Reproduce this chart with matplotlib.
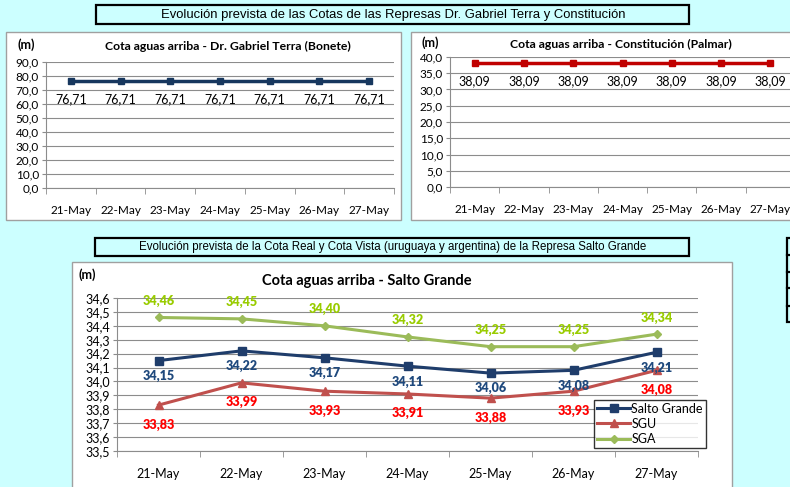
import matplotlib.pyplot as plt
from matplotlib.patches import Rectangle
from matplotlib.lines import Line2D
import numpy as np

# data
days = ["21-May", "22-May", "23-May", "24-May", "25-May", "26-May", "27-May"]
bonete = [76.71, 76.71, 76.71, 76.71, 76.71, 76.71, 76.71]
palmar = [38.09, 38.09, 38.09, 38.09, 38.09, 38.09, 38.09]
salto_grande = [34.15, 34.22, 34.17, 34.11, 34.06, 34.08, 34.21]
sgu = [33.83, 33.99, 33.93, 33.91, 33.88, 33.93, 34.08]
sga = [34.46, 34.45, 34.40, 34.32, 34.25, 34.25, 34.34]

W, H = 790, 487
BG = "#CCFFFF"
GRID = "#8C8C8C"
FONT = "Lato"

fig = plt.figure(figsize=(W / 100, H / 100), dpi=100, facecolor=BG)


def box(x0, y0, x1, y1, **kw):
    # rectangle in pixel coords (top-left origin), drawn under the axes
    r = Rectangle((x0 / W, 1 - y1 / H), (x1 - x0) / W, (y1 - y0) / H,
                  transform=fig.transFigure, zorder=-5, **kw)
    fig.patches.append(r)


def ftext(x, y, s, **kw):
    fig.text(x / W, 1 - y / H, s, **kw)


def make_axes(x0, y0, x1, y1):
    return fig.add_axes([x0 / W, 1 - y1 / H, (x1 - x0) / W, (y1 - y0) / H])


def style_axes(ax, ymin, ymax, step, fmt, fs=8.5):
    n = len(days)
    x = np.arange(n)
    ax.set_facecolor("white")
    ax.set_xlim(-0.5, n - 0.5)
    ax.set_ylim(ymin, ymax)
    yt = np.round(np.arange(ymin, ymax + step / 2, step), 3)
    ax.set_yticks(yt)
    ax.set_yticklabels([fmt.format(v).replace(".", ",") for v in yt],
                       fontsize=fs, family=FONT)
    ax.set_xticks(x)
    ax.set_xticklabels(days, fontsize=fs, family=FONT)
    ax.set_xticks(np.arange(-0.5, n), minor=True)
    ax.tick_params(axis="x", which="major", length=0, pad=12)
    ax.tick_params(axis="x", which="minor", length=4, color=GRID)
    ax.tick_params(axis="y", length=3, color=GRID, pad=2)
    ax.grid(axis="y", color=GRID, linewidth=0.8)
    ax.set_axisbelow(True)
    for s in ["top", "right"]:
        ax.spines[s].set_visible(False)
    for s in ["left", "bottom"]:
        ax.spines[s].set_color(GRID)
    return x


# top title box
box(96, 5, 689, 24, facecolor=BG, edgecolor="black", linewidth=1.6)
ftext(393, 15, "Evolución prevista de las Cotas de las Represas Dr. Gabriel Terra y Constitución",
      ha="center", va="center", fontsize=9.4, family="Liberation Sans")

# left panel - Bonete
box(6, 32, 401, 220, facecolor="white", edgecolor="#A0A0A0", linewidth=1)
ax1 = make_axes(46, 62, 394, 188)
x = style_axes(ax1, 0, 90, 10, "{:.1f}")
ax1.plot(x, bonete, color="#17375E", linewidth=2.5, marker="s", markersize=5)
for xi, v in zip(x, bonete):
    ax1.annotate(f"{v:.2f}".replace(".", ","), (xi, v), xytext=(0, -13),
                 textcoords="offset points", ha="center", va="center",
                 fontsize=9, family=FONT)
ftext(26, 45, "(m)", ha="center", va="center", fontsize=9, weight="bold", family=FONT)
ftext(228, 46, "Cota aguas arriba - Dr. Gabriel Terra (Bonete)", ha="center", va="center",
      fontsize=8.8, weight="bold", family=FONT)

# right panel - Palmar (cut off at figure edge)
box(411, 32, 815, 220, facecolor="white", edgecolor="#A0A0A0", linewidth=1)
ax2 = make_axes(450, 57, 795, 187)
x = style_axes(ax2, 0, 40, 5, "{:.1f}")
ax2.plot(x, palmar, color="#C00000", linewidth=2.5, marker="s", markersize=5)
for xi, v in zip(x, palmar):
    ax2.annotate(f"{v:.2f}".replace(".", ","), (xi, v), xytext=(0, -13),
                 textcoords="offset points", ha="center", va="center",
                 fontsize=9, family=FONT)
ftext(430, 43, "(m)", ha="center", va="center", fontsize=9, weight="bold", family=FONT)
ftext(621, 44, "Cota aguas arriba - Constitución (Palmar)", ha="center", va="center",
      fontsize=8.8, weight="bold", family=FONT)

# bottom title box
box(95, 238, 689, 256, facecolor=BG, edgecolor="black", linewidth=1.6)
ftext(393, 247, "Evolución prevista de la Cota Real y Cota Vista (uruguaya y argentina) de la Represa Salto Grande",
      ha="center", va="center", fontsize=8.3, family="Liberation Sans")

# right side table fragment
box(787, 238, 800, 322, facecolor=BG, edgecolor="black", linewidth=1.6)
for yl in [255, 272, 288, 306]:
    fig.lines.append(Line2D([787 / W, 1], [1 - yl / H, 1 - yl / H],
                            transform=fig.transFigure, color="black", linewidth=1.6))

# bottom panel - Salto Grande
box(72, 262, 732, 500, facecolor="white", edgecolor="#A0A0A0", linewidth=1)
ax3 = make_axes(117, 298, 698, 451)
x = style_axes(ax3, 33.5, 34.6, 0.1, "{:.1f}", fs=9)
series = [
    ("Salto Grande", salto_grande, "#1F3D6B", "#1F497D", "s", -11),
    ("SGU", sgu, "#C0504D", "#FF0000", "^", -14),
    ("SGA", sga, "#9BBB59", "#99CC00", "D", 12),
]
for name, vals, col, lcol, mk, dy in series:
    ax3.plot(x, vals, color=col, linewidth=2.2, marker=mk,
             markersize=5.5 if mk != "D" else 4.5, label=name)
    for xi, v in zip(x, vals):
        ax3.annotate(f"{v:.2f}".replace(".", ","), (xi, v), xytext=(0, dy),
                     textcoords="offset points", ha="center", va="center",
                     fontsize=9, weight="heavy", color=lcol, family=FONT)
leg = ax3.legend(loc="lower right", bbox_to_anchor=(1.02, -0.005),
                 prop={"family": FONT, "size": 9}, frameon=True, fancybox=False,
                 borderpad=0.25, labelspacing=0.25, handlelength=2.6,
                 handletextpad=0.1, borderaxespad=0.3)
leg.get_frame().set_edgecolor("black")
leg.get_frame().set_linewidth(1)
ftext(87, 275, "(m)", ha="center", va="center", fontsize=9, weight="bold", family=FONT)
ftext(367, 281, "Cota aguas arriba - Salto Grande", ha="center", va="center",
      fontsize=10.5, weight="bold", family=FONT)

fig.savefig("out.png", dpi=100, facecolor=BG)
